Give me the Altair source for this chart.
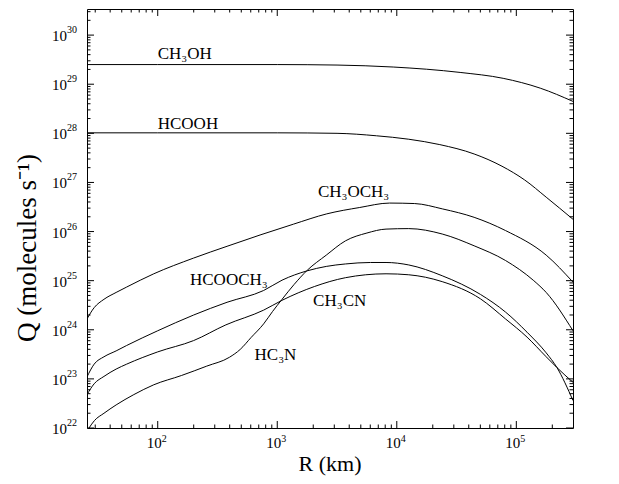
import altair as alt
import pandas as pd

# ---- data (log10 R [km], log10 Q [molecules/s]) ----
logR_ch3oh = [1.408, 2.0, 3.0, 3.5, 3.97, 4.53, 4.89, 5.2, 5.474]
logQ_ch3oh = [29.40, 29.40, 29.40, 29.39, 29.35, 29.24, 29.12, 28.92, 28.65]

logR_hcooh = [1.408, 2.0, 3.0, 3.5, 3.83, 4.1, 4.36, 4.647, 4.88, 5.07, 5.25, 5.474]
logQ_hcooh = [28.01, 28.01, 28.01, 28.00, 27.95, 27.88, 27.77, 27.58, 27.33, 27.05, 26.70, 26.25]

logR_ch3och3 = [1.408, 1.468, 1.55, 1.652, 1.74, 1.967, 2.30, 2.58, 2.856, 3.135, 3.414,
                3.69, 3.94, 4.15, 4.384, 4.647, 4.91, 5.25, 5.474]
logQ_ch3och3 = [24.22, 24.45, 24.62, 24.76, 24.87, 25.14, 25.46, 25.70, 25.93, 26.15, 26.36,
                26.49, 26.58, 26.57, 26.46, 26.29, 26.02, 25.52, 24.97]

logR_hcooch3 = [1.408, 1.468, 1.55, 1.652, 1.74, 2.0, 2.30, 2.58, 2.886, 3.04, 3.25, 3.41,
                3.57, 3.78, 3.91, 4.10, 4.38, 4.70, 4.91, 5.09, 5.25, 5.34, 5.474]
logQ_hcooch3 = [23.04, 23.30, 23.45, 23.57, 23.68, 23.98, 24.30, 24.56, 24.80, 25.01, 25.20, 25.29,
                25.34, 25.37, 25.37, 25.32, 25.10, 24.72, 24.36, 23.95, 23.53, 23.23, 22.56]

logR_ch3cn = [1.408, 1.468, 1.55, 1.652, 1.74, 2.0, 2.30, 2.57, 2.886, 3.04, 3.31, 3.57,
              3.91, 4.10, 4.38, 4.70, 4.91, 5.09, 5.25, 5.34, 5.474]
logQ_ch3cn = [22.68, 22.90, 23.05, 23.20, 23.30, 23.55, 23.78, 24.10, 24.40, 24.60, 24.88, 25.06,
              25.14, 25.12, 24.98, 24.63, 24.22, 23.85, 23.45, 23.23, 22.93]

logR_hc3n = [1.425, 1.47, 1.55, 1.652, 1.80, 1.967, 2.20, 2.41, 2.60, 2.69, 2.78, 2.886, 2.96,
             3.04, 3.14, 3.25, 3.41, 3.57, 3.75, 3.91, 4.10, 4.38, 4.647, 4.91, 5.146, 5.25, 5.474]
logQ_hc3n = [22.00, 22.15, 22.30, 22.47, 22.68, 22.88, 23.07, 23.26, 23.44, 23.60, 23.84, 24.12, 24.37,
             24.62, 24.92, 25.21, 25.52, 25.81, 25.97, 26.05, 26.06, 25.95, 25.71, 25.41, 25.00, 24.76, 23.98]

series = [
    ("CH3OH", logR_ch3oh, logQ_ch3oh),
    ("HCOOH", logR_hcooh, logQ_hcooh),
    ("CH3OCH3", logR_ch3och3, logQ_ch3och3),
    ("HCOOCH3", logR_hcooch3, logQ_hcooch3),
    ("CH3CN", logR_ch3cn, logQ_ch3cn),
    ("HC3N", logR_hc3n, logQ_hc3n),
]

label_text = ["CH\u2083OH", "HCOOH", "CH\u2083OCH\u2083", "HCOOCH\u2083", "CH\u2083CN", "HC\u2083N"]
label_logR = [2.0, 2.0, 3.34, 2.27, 3.30, 2.81]
label_logQ = [29.62, 28.20, 26.80, 25.02, 24.59, 23.49]

x_title = "R (km)"
y_title = "Q (molecules s\u207b\u00b9)"

x_decades = [2, 3, 4, 5]
y_decades = [22, 23, 24, 25, 26, 27, 28, 29, 30]
x_domain = [25.6, 2.98e5]
y_domain = [1e22, 3.4e30]

# ---- build tables ----
rows = []
for name, lr, lq in series:
    for r, q in zip(lr, lq):
        rows.append({"species": name, "R": 10 ** r, "Q": 10 ** q})
lines_df = pd.DataFrame(rows)

labels_df = pd.DataFrame({"label": label_text,
                          "R": [10 ** v for v in label_logR],
                          "Q": [10 ** v for v in label_logQ]})

def minor(lo_exp, hi_exp, lo, hi):
    out = []
    for e in range(lo_exp, hi_exp + 1):
        for k in range(2, 10):
            v = k * 10 ** e
            if lo <= v <= hi:
                out.append(v)
    return out

x_major_df = pd.DataFrame({"R": [10 ** d for d in x_decades], "base": "10",
                           "exp": [str(d) for d in x_decades]})
x_minor_df = pd.DataFrame({"R": minor(1, 5, *x_domain)})
y_major_df = pd.DataFrame({"Q": [10.0 ** d for d in y_decades], "base": "10",
                           "exp": [str(d) for d in y_decades]})
y_minor_df = pd.DataFrame({"Q": minor(22, 30, *y_domain)})

W, H = 486, 419
FONT = "Liberation Serif"

xs = alt.Scale(type="log", domain=x_domain, nice=False)
ys = alt.Scale(type="log", domain=y_domain, nice=False)

X = lambda: alt.X("R:Q", scale=xs, axis=None)
Y = lambda: alt.Y("Q:Q", scale=ys, axis=None)

lines = alt.Chart(lines_df).mark_line(color="black", strokeWidth=1, interpolate="monotone", clip=True).encode(
    x=X(), y=Y(), detail="species:N",
)

texts = alt.Chart(labels_df).mark_text(align="left", baseline="middle", font=FONT, fontSize=17, color="black").encode(
    x=X(), y=Y(), text="label:N",
)

# tick labels: "10" plus a raised, smaller exponent
x_base = alt.Chart(x_major_df).mark_text(align="right", baseline="alphabetic", dx=4, font=FONT,
                                         fontSize=15, color="black").encode(
    x=X(), y=alt.value(H + 20), text="base:N")
x_exp = alt.Chart(x_major_df).mark_text(align="left", baseline="alphabetic", dx=4, font=FONT,
                                        fontSize=10, color="black").encode(
    x=X(), y=alt.value(H + 14), text="exp:N")
y_base = alt.Chart(y_major_df).mark_text(align="right", baseline="middle", dy=1, font=FONT,
                                         fontSize=15, color="black").encode(
    y=Y(), x=alt.value(-20), text="base:N")
y_exp = alt.Chart(y_major_df).mark_text(align="left", baseline="middle", dy=-5, font=FONT,
                                        fontSize=10, color="black").encode(
    y=Y(), x=alt.value(-20), text="exp:N")

# axis titles
xt = alt.Chart(pd.DataFrame({"t": [x_title]})).mark_text(
    align="center", baseline="middle", font=FONT, fontSize=22, color="black").encode(
    x=alt.value(W / 2), y=alt.value(H + 36), text="t:N")
yt = alt.Chart(pd.DataFrame({"t": [y_title]})).mark_text(
    align="center", baseline="middle", angle=270, font=FONT, fontSize=27, color="black").encode(
    x=alt.value(-59), y=alt.value(239), text="t:N")

def xticks(df, size):
    base = alt.Chart(df).mark_rule(color="black", strokeWidth=1)
    bottom = base.encode(x=X(), y=alt.value(H), y2=alt.value(H - size))
    top = base.encode(x=X(), y=alt.value(0), y2=alt.value(size))
    return [bottom, top]

def yticks(df, size):
    base = alt.Chart(df).mark_rule(color="black", strokeWidth=1)
    left = base.encode(y=Y(), x=alt.value(0), x2=alt.value(size))
    right = base.encode(y=Y(), x=alt.value(W), x2=alt.value(W - size))
    return [left, right]

layers = ([lines] + xticks(x_major_df, 7) + xticks(x_minor_df, 3.5) + yticks(y_major_df, 7)
          + yticks(y_minor_df, 3.5) + [texts, x_base, x_exp, y_base, y_exp, xt, yt])

chart = alt.layer(*layers).properties(
    width=W, height=H,
    autosize=alt.AutoSizeParams(type="none"),
    padding={"left": 79, "top": 1, "right": 38, "bottom": 48},
).configure(
    background="white"
).configure_view(
    stroke="black", strokeWidth=1
)

chart.save("out.html", embed_options={"renderer": "svg", "actions": False})
